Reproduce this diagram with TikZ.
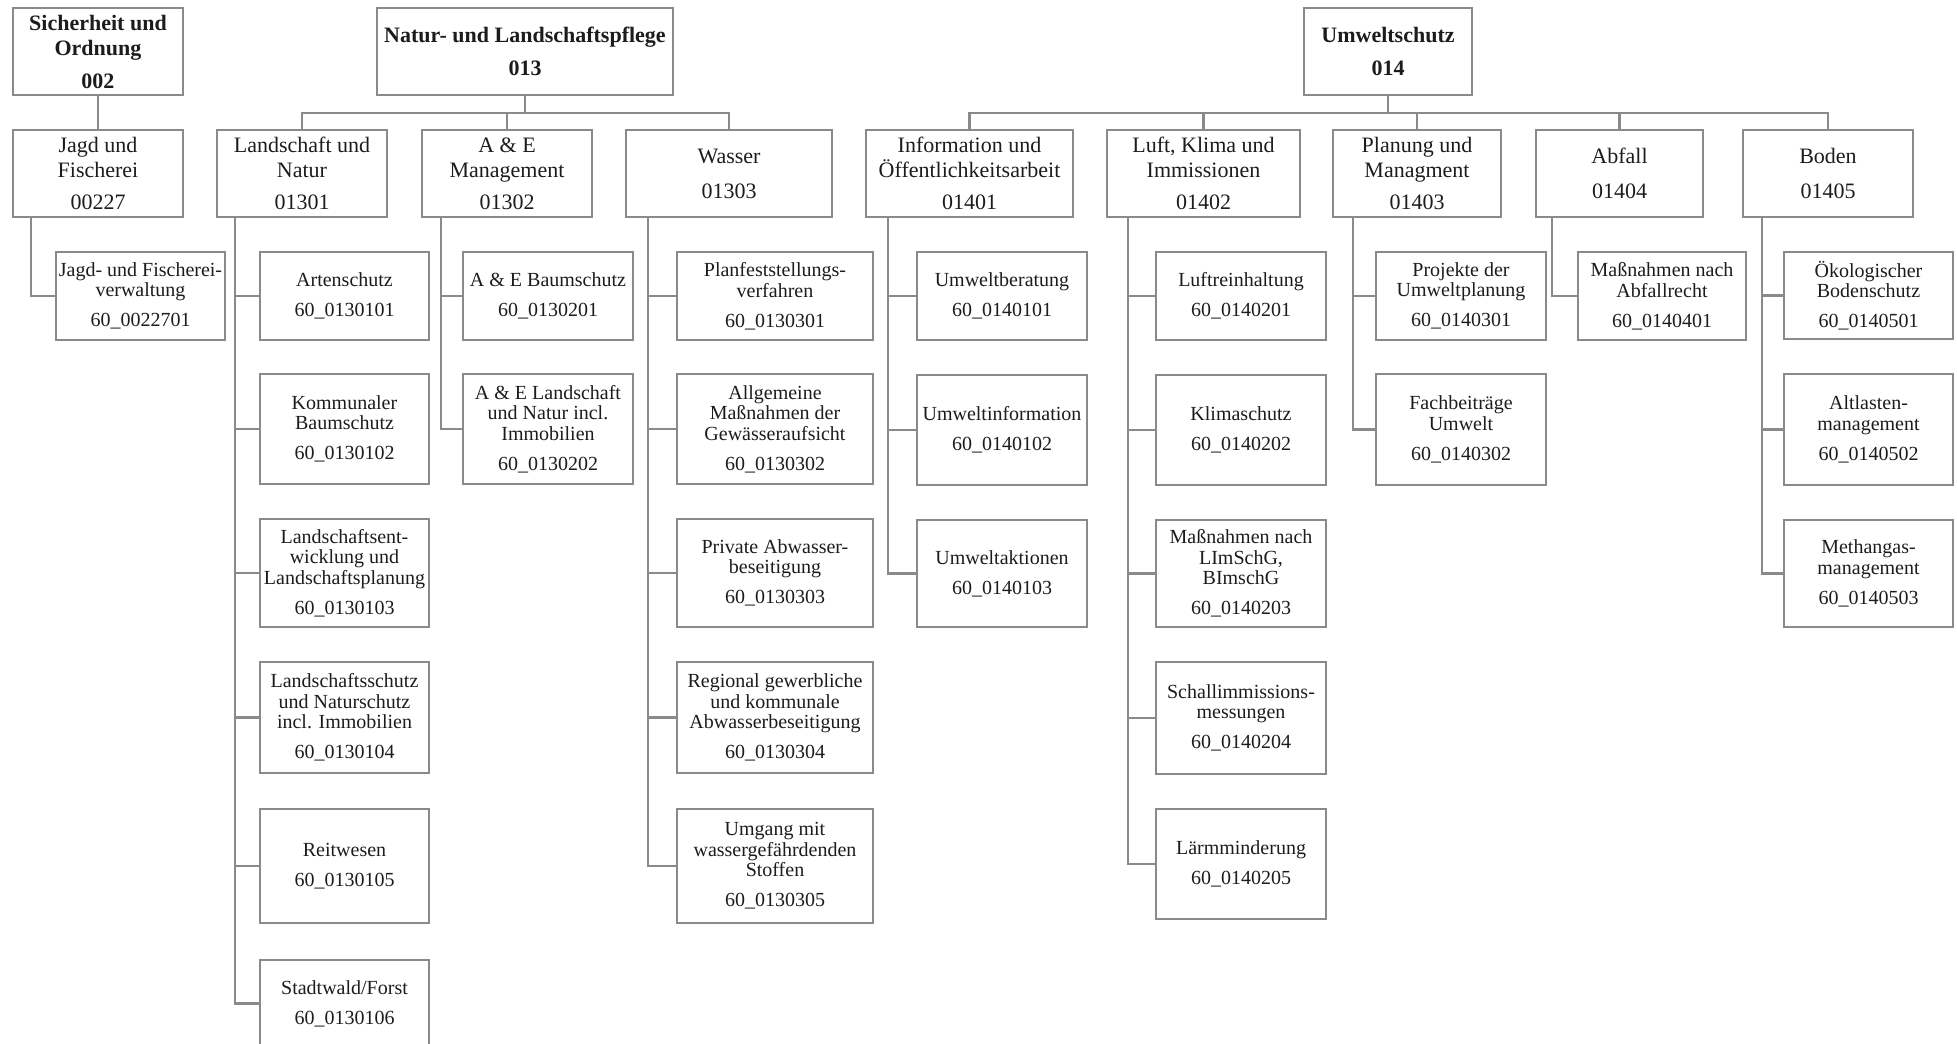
\documentclass[tikz,border=0pt]{standalone}
\usepackage{fontspec}
\setmainfont{Liberation Serif}
\definecolor{framegray}{RGB}{138,138,138}
\definecolor{inkgray}{RGB}{28,28,28}
\newcommand{\orgbox}[7]{%
  \node[#2,minimum width={(#5-#3)*1pt},minimum height={(#6-#4)*1pt}]
    (#1) at ({(#3+#5)/2},{(#4+#6)/2}) {#7};
}
\newcommand{\fanout}[2]{%
  \foreach \kid in {#2}{\draw[link] (#1.south) -- ++(0,18) -| (\kid.north);}
}
\newcommand{\branch}[3]{%
  \foreach \kid in {#3}{\draw[link] ([xshift=#2]#1.south west) |- (\kid.west);}
}
\tikzset{
  orgframe/.style={draw=framegray,line width=2.4pt,align=center,
    inner xsep=2pt,inner ysep=0pt,outer sep=0pt,text=inkgray},
  headbox/.style={orgframe,font=\fontsize{22}{25}\selectfont\bfseries},
  areabox/.style={orgframe,font=\fontsize{22}{25}\selectfont},
  taskbox/.style={orgframe,font=\fontsize{20}{20.5}\selectfont},
  link/.style={draw=framegray,line width=2.4pt},
}

\begin{document}
\begin{tikzpicture}[x=1pt,y=-1pt]
  \useasboundingbox (0,0) rectangle (1957,1044);
  \clip (0,0) rectangle (1957,1044);
  % Produktbereiche
  \orgbox{sio}{headbox}{13}{8}{183}{95}{Sicherheit und\\Ordnung\\[8pt]002}
  \orgbox{nat}{headbox}{377}{8}{673}{95}{Natur- und Landschaftspflege\\[8pt]013}
  \orgbox{umw}{headbox}{1304}{8}{1472}{95}{Umweltschutz\\[8pt]014}
  % Produktgruppen
  \orgbox{jagd}{areabox}{13}{130}{183}{217}{Jagd und\\Fischerei\\[7pt]00227}
  \orgbox{land}{areabox}{217}{130}{387}{217}{Landschaft und\\Natur\\[7pt]01301}
  \orgbox{aem}{areabox}{422}{130}{592}{217}{A \& E\\Management\\[7pt]01302}
  \orgbox{wass}{areabox}{626}{130}{832}{217}{Wasser\\[10pt]01303}
  \orgbox{info}{areabox}{866}{130}{1073}{217}{Information und\\Öffentlichkeitsarbeit\\[7pt]01401}
  \orgbox{luft}{areabox}{1107}{130}{1300}{217}{Luft, Klima und\\Immissionen\\[7pt]01402}
  \orgbox{plan}{areabox}{1333}{130}{1501}{217}{Planung und\\Managment\\[7pt]01403}
  \orgbox{abf}{areabox}{1536}{130}{1703}{217}{Abfall\\[10pt]01404}
  \orgbox{bod}{areabox}{1743}{130}{1913}{217}{Boden\\[10pt]01405}
  % Produkte
  \orgbox{jfv}{taskbox}{56}{252}{225}{340}{Jagd- und Fischerei-\\verwaltung\\[9.5pt]60\_0022701}
  \orgbox{l1}{taskbox}{260}{252}{429}{340}{Artenschutz\\[9.5pt]60\_0130101}
  \orgbox{l2}{taskbox}{260}{374}{429}{484}{Kommunaler\\Baumschutz\\[9.5pt]60\_0130102}
  \orgbox{l3}{taskbox}{260}{519}{429}{627}{Landschaftsent-\\wicklung und\\Landschaftsplanung\\[9.5pt]60\_0130103}
  \orgbox{l4}{taskbox}{260}{662}{429}{773}{Landschaftsschutz\\und Naturschutz\\incl. Immobilien\\[9.5pt]60\_0130104}
  \orgbox{l5}{taskbox}{260}{809}{429}{923}{Reitwesen\\[9.5pt]60\_0130105}
  \orgbox{l6}{taskbox}{260}{960}{429}{1047}{Stadtwald/Forst\\[9.5pt]60\_0130106}
  \orgbox{a1}{taskbox}{463}{252}{633}{340}{A \& E Baumschutz\\[9.5pt]60\_0130201}
  \orgbox{a2}{taskbox}{463}{374}{633}{484}{A \& E Landschaft\\und Natur incl.\\Immobilien\\[9.5pt]60\_0130202}
  \orgbox{w1}{taskbox}{677}{252}{873}{340}{Planfeststellungs-\\verfahren\\[9.5pt]60\_0130301}
  \orgbox{w2}{taskbox}{677}{374}{873}{484}{Allgemeine\\Maßnahmen der\\Gewässeraufsicht\\[9.5pt]60\_0130302}
  \orgbox{w3}{taskbox}{677}{519}{873}{627}{Private Abwasser-\\beseitigung\\[9.5pt]60\_0130303}
  \orgbox{w4}{taskbox}{677}{662}{873}{773}{Regional gewerbliche\\und kommunale\\Abwasserbeseitigung\\[9.5pt]60\_0130304}
  \orgbox{w5}{taskbox}{677}{809}{873}{923}{Umgang mit\\wassergefährdenden\\Stoffen\\[9.5pt]60\_0130305}
  \orgbox{i1}{taskbox}{917}{252}{1087}{340}{Umweltberatung\\[9.5pt]60\_0140101}
  \orgbox{i2}{taskbox}{917}{375}{1087}{485}{Umweltinformation\\[9.5pt]60\_0140102}
  \orgbox{i3}{taskbox}{917}{520}{1087}{627}{Umweltaktionen\\[9.5pt]60\_0140103}
  \orgbox{k1}{taskbox}{1156}{252}{1326}{340}{Luftreinhaltung\\[9.5pt]60\_0140201}
  \orgbox{k2}{taskbox}{1156}{375}{1326}{485}{Klimaschutz\\[9.5pt]60\_0140202}
  \orgbox{k3}{taskbox}{1156}{520}{1326}{627}{Maßnahmen nach\\LImSchG,\\BImschG\\[9.5pt]60\_0140203}
  \orgbox{k4}{taskbox}{1156}{662}{1326}{774}{Schallimmissions-\\messungen\\[9.5pt]60\_0140204}
  \orgbox{k5}{taskbox}{1156}{809}{1326}{919}{Lärmminderung\\[9.5pt]60\_0140205}
  \orgbox{p1}{taskbox}{1376}{252}{1546}{340}{Projekte der\\Umweltplanung\\[9.5pt]60\_0140301}
  \orgbox{p2}{taskbox}{1376}{374}{1546}{485}{Fachbeiträge\\Umwelt\\[9.5pt]60\_0140302}
  \orgbox{f1}{taskbox}{1578}{252}{1746}{340}{Maßnahmen nach\\Abfallrecht\\[9.5pt]60\_0140401}
  \orgbox{b1}{taskbox}{1784}{252}{1953}{339}{Ökologischer\\Bodenschutz\\[9.5pt]60\_0140501}
  \orgbox{b2}{taskbox}{1784}{374}{1953}{485}{Altlasten-\\management\\[9.5pt]60\_0140502}
  \orgbox{b3}{taskbox}{1784}{520}{1953}{627}{Methangas-\\management\\[9.5pt]60\_0140503}
  % Verbindungen
  \draw[link] (sio.south) -- (jagd.north);
  \fanout{nat}{land,aem,wass}
  \fanout{umw}{info,luft,plan,abf,bod}
  \branch{jagd}{18pt}{jfv}
  \branch{land}{18pt}{l1,l2,l3,l4,l5,l6}
  \branch{aem}{19pt}{a1,a2}
  \branch{wass}{22pt}{w1,w2,w3,w4,w5}
  \branch{info}{22pt}{i1,i2,i3}
  \branch{luft}{21pt}{k1,k2,k3,k4,k5}
  \branch{plan}{20pt}{p1,p2}
  \branch{abf}{16pt}{f1}
  \branch{bod}{19pt}{b1,b2,b3}
\end{tikzpicture}
\end{document}
